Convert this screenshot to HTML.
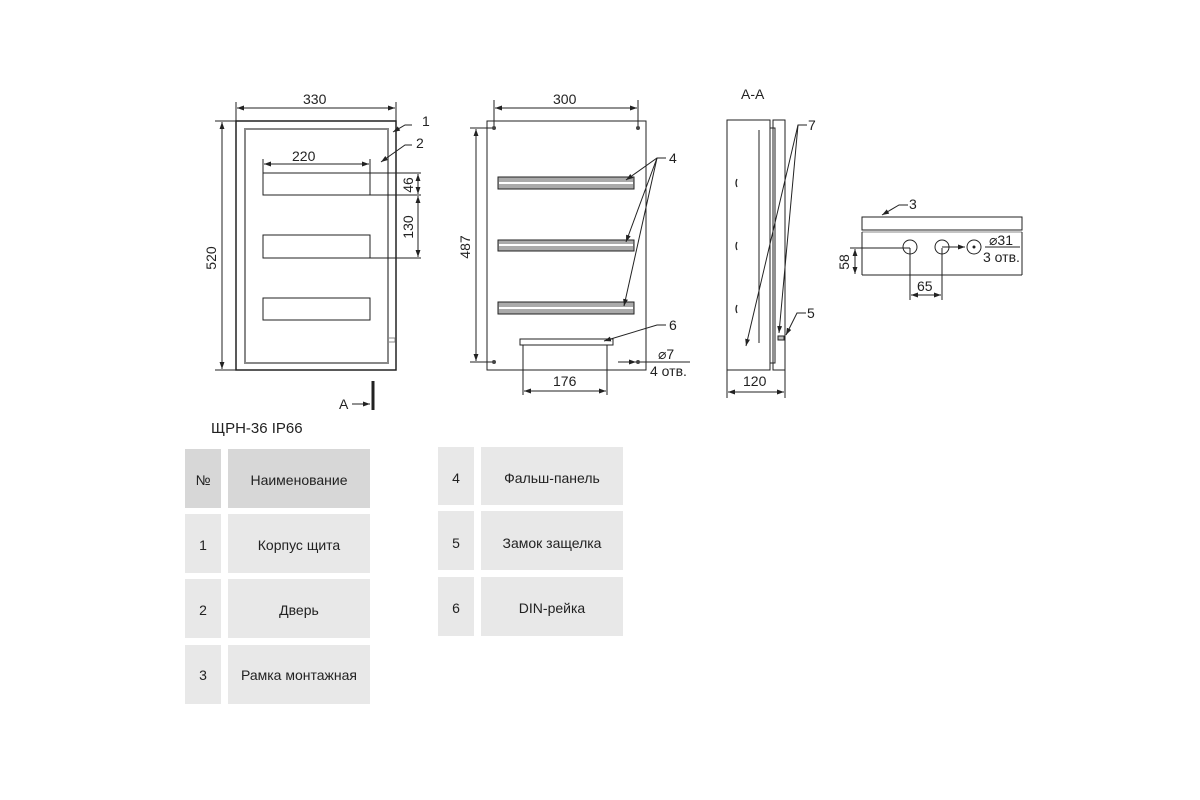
<!DOCTYPE html>
<html><head><meta charset="utf-8"><style>
html,body{margin:0;padding:0;background:#fff;}
svg{display:block;}
text{font-family:"Liberation Sans","DejaVu Sans",sans-serif;fill:#222;}
.t{font-size:14px;}
</style></head><body>
<svg width="1200" height="800" viewBox="0 0 1200 800" xmlns="http://www.w3.org/2000/svg">
<defs>
<marker id="a" viewBox="0 0 10 10" refX="10" refY="5" markerWidth="7" markerHeight="7" orient="auto-start-reverse"><path d="M0,1.5 L10,5 L0,8.5z" fill="#222"/></marker>
</defs>
<g stroke="#222" stroke-width="1" fill="none">
<rect x="236" y="121" width="160" height="249" stroke-width="1.5"/>
<rect x="245" y="129" width="143" height="234" stroke="#888" stroke-width="2"/>
<rect x="263" y="173" width="107" height="22"/>
<rect x="263" y="235" width="107" height="23"/>
<rect x="263" y="298" width="107" height="22"/>
<rect x="388" y="338" width="7" height="4" stroke="#888"/>
<line x1="236" y1="102" x2="236" y2="121"/><line x1="396" y1="102" x2="396" y2="121"/>
<line x1="237" y1="108" x2="395" y2="108" marker-start="url(#a)" marker-end="url(#a)"/>
<line x1="215" y1="121" x2="236" y2="121"/><line x1="215" y1="370" x2="236" y2="370"/>
<line x1="222" y1="122" x2="222" y2="369" marker-start="url(#a)" marker-end="url(#a)"/>
<line x1="263" y1="159" x2="263" y2="173"/><line x1="370" y1="159" x2="370" y2="195"/>
<line x1="264" y1="164" x2="369" y2="164" marker-start="url(#a)" marker-end="url(#a)"/>
<line x1="370" y1="173" x2="421" y2="173"/><line x1="370" y1="195" x2="421" y2="195"/><line x1="370" y1="258" x2="421" y2="258"/>
<line x1="418" y1="174" x2="418" y2="194" marker-start="url(#a)" marker-end="url(#a)"/>
<line x1="418" y1="196" x2="418" y2="257" marker-start="url(#a)" marker-end="url(#a)"/>
<path d="M412,125 L405,125 L393,132" marker-end="url(#a)"/>
<path d="M412,145 L405,145 L381,162" marker-end="url(#a)"/>
<line x1="373" y1="381" x2="373" y2="410" stroke-width="3"/>
<line x1="352" y1="404" x2="370" y2="404" marker-end="url(#a)"/>
<rect x="487" y="121" width="159" height="249"/>
<g fill="#444" stroke="none"><circle cx="494" cy="128" r="2"/><circle cx="638" cy="128" r="2"/><circle cx="494" cy="362" r="2"/><circle cx="638" cy="362" r="2"/></g>
<line x1="494" y1="100" x2="494" y2="126"/><line x1="638" y1="100" x2="638" y2="126"/>
<line x1="495" y1="108" x2="637" y2="108" marker-start="url(#a)" marker-end="url(#a)"/>
<line x1="470" y1="128" x2="492" y2="128"/><line x1="470" y1="362" x2="492" y2="362"/>
<line x1="476" y1="129" x2="476" y2="361" marker-start="url(#a)" marker-end="url(#a)"/>
<g fill="#aaa"><rect x="498" y="177" width="136" height="12"/><rect x="498" y="240" width="136" height="11"/><rect x="498" y="302" width="136" height="12"/></g>
<g stroke="#fff" stroke-width="2"><line x1="499" y1="183" x2="633" y2="183"/><line x1="499" y1="245" x2="633" y2="245"/><line x1="499" y1="308" x2="633" y2="308"/></g>
<rect x="520" y="339" width="93" height="6"/>
<line x1="523" y1="345" x2="523" y2="395"/><line x1="607" y1="345" x2="607" y2="395"/>
<line x1="524" y1="391" x2="606" y2="391" marker-start="url(#a)" marker-end="url(#a)"/>
<path d="M666,158 L657,158 L626,180" marker-end="url(#a)"/>
<line x1="657" y1="158" x2="626" y2="242" marker-end="url(#a)"/>
<line x1="657" y1="158" x2="624" y2="306" marker-end="url(#a)"/>
<path d="M666,325 L657,325 L604,341" marker-end="url(#a)"/>
<line x1="618" y1="362" x2="636" y2="362" marker-end="url(#a)"/>
<line x1="640" y1="362" x2="690" y2="362"/>
<rect x="727" y="120" width="43" height="250"/>
<rect x="770" y="128" width="5" height="235"/>
<rect x="773" y="120" width="12" height="250"/>
<line x1="759" y1="130" x2="759" y2="343"/>
<rect x="778" y="336" width="6" height="4" fill="#bbb"/>
<path d="M737,179 q-2,4 0,8 M737,242 q-2,4 0,8 M737,305 q-2,4 0,8" stroke-width="1.3"/>
<line x1="727" y1="370" x2="727" y2="398"/><line x1="785" y1="370" x2="785" y2="398"/>
<line x1="728" y1="392" x2="784" y2="392" marker-start="url(#a)" marker-end="url(#a)"/>
<path d="M807,125 L798,125 L746,346" marker-end="url(#a)"/>
<line x1="798" y1="125" x2="779" y2="333" marker-end="url(#a)"/>
<path d="M806,313 L797,313 L786,335" marker-end="url(#a)"/>
<rect x="862" y="217" width="160" height="13"/>
<line x1="862" y1="232" x2="1022" y2="232" stroke="#888"/>
<line x1="862" y1="232" x2="862" y2="275"/><line x1="1022" y1="232" x2="1022" y2="275"/>
<line x1="862" y1="275" x2="1022" y2="275"/>
<circle cx="910" cy="247" r="7"/><circle cx="942" cy="247" r="7"/><circle cx="974" cy="247" r="7"/>
<circle cx="974" cy="247" r="1" fill="#222"/>
<line x1="850" y1="248" x2="910" y2="248"/><line x1="942" y1="247" x2="965" y2="247" marker-end="url(#a)"/>
<line x1="985" y1="247" x2="1020" y2="247"/>
<line x1="855" y1="249" x2="855" y2="274" marker-start="url(#a)" marker-end="url(#a)"/>
<line x1="910" y1="248" x2="910" y2="300"/><line x1="942" y1="248" x2="942" y2="300"/>
<line x1="911" y1="295" x2="941" y2="295" marker-start="url(#a)" marker-end="url(#a)"/>
<path d="M908,205 L899,205 L882,215" marker-end="url(#a)"/>
</g>
<g class="t">
<text x="303" y="104">330</text>
<text x="422" y="126">1</text><text x="416" y="148">2</text>
<text x="216" y="258" transform="rotate(-90 216 258)" text-anchor="middle">520</text>
<text x="292" y="161">220</text>
<text x="413" y="185" transform="rotate(-90 413 185)" text-anchor="middle">46</text>
<text x="413" y="227" transform="rotate(-90 413 227)" text-anchor="middle">130</text>
<text x="339" y="409">A</text>
<text x="553" y="104">300</text>
<text x="470" y="247" transform="rotate(-90 470 247)" text-anchor="middle">487</text>
<text x="669" y="163">4</text><text x="669" y="330">6</text>
<text x="553" y="386">176</text>
<text x="658" y="359">⌀7</text><text x="650" y="376">4 отв.</text>
<text x="741" y="99">A-A</text>
<text x="808" y="130">7</text><text x="807" y="318">5</text>
<text x="743" y="386">120</text>
<text x="909" y="209">3</text>
<text x="989" y="245">⌀31</text><text x="983" y="262">3 отв.</text>
<text x="849" y="262" transform="rotate(-90 849 262)" text-anchor="middle">58</text>
<text x="917" y="291">65</text>
<text x="211" y="433" style="font-size:15px">ЩРН-36 IP66</text>
</g>
<g>
<rect x="185" y="449" width="36" height="59" fill="#d7d7d7"/><rect x="228" y="449" width="142" height="59" fill="#d7d7d7"/>
<rect x="185" y="514" width="36" height="59" fill="#e8e8e8"/><rect x="228" y="514" width="142" height="59" fill="#e8e8e8"/>
<rect x="185" y="579" width="36" height="59" fill="#e8e8e8"/><rect x="228" y="579" width="142" height="59" fill="#e8e8e8"/>
<rect x="185" y="645" width="36" height="59" fill="#e8e8e8"/><rect x="228" y="645" width="142" height="59" fill="#e8e8e8"/>
<rect x="438" y="447" width="36" height="58" fill="#e8e8e8"/><rect x="481" y="447" width="142" height="58" fill="#e8e8e8"/>
<rect x="438" y="511" width="36" height="59" fill="#e8e8e8"/><rect x="481" y="511" width="142" height="59" fill="#e8e8e8"/>
<rect x="438" y="577" width="36" height="59" fill="#e8e8e8"/><rect x="481" y="577" width="142" height="59" fill="#e8e8e8"/>
</g>
<g style="font-size:14px" text-anchor="middle">
<text x="203" y="485">№</text><text x="299" y="485">Наименование</text>
<text x="203" y="550">1</text><text x="299" y="550">Корпус щита</text>
<text x="203" y="615">2</text><text x="299" y="615">Дверь</text>
<text x="203" y="680">3</text><text x="299" y="680">Рамка монтажная</text>
<text x="456" y="483">4</text><text x="552" y="483">Фальш-панель</text>
<text x="456" y="548">5</text><text x="552" y="548">Замок защелка</text>
<text x="456" y="613">6</text><text x="552" y="613">DIN-рейка</text>
</g>
</svg>
</body></html>
